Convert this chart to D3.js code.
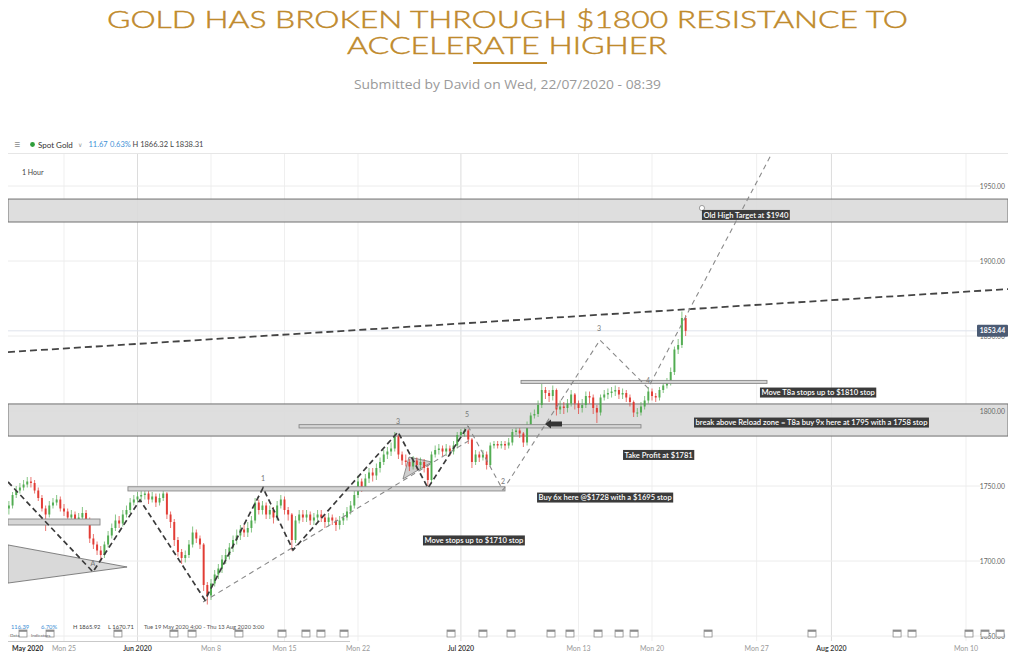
<!DOCTYPE html>
<html><head><meta charset="utf-8">
<script src="https://cdn.jsdelivr.net/npm/d3@7"></script>
<style>body{margin:0;background:#fff;} svg{display:block;font-family:Lato,'Open Sans',sans-serif;}</style>
</head><body>
<svg id="c" width="1013" height="664"></svg>
<script>
// ---------------- DATA ----------------
// 6-hour candles; time unit = trading days from Mon 25 May 2020 (calendar days after Mon 20 Jul)
const startT = -3.75, stepT = 0.25, firstOpen = 1735;
const closes = [
1737,1744,1747,1749,1751,1753,1752,1747,1742,1735,
1731,1737,1739,1741,1735,1733,1729,1731,1727,1729,
1732,1727,1715,1711,1707,1704,1711,1717,1722,1727,
1725,1731,1734,1739,1741,1743,1744,1745,1741,1743,
1739,1742,1745,1731,1726,1714,1706,1702,1704,1711,
1719,1715,1711,1684,1677,1685,1691,1695,1701,1704,
1709,1714,1717,1721,1719,1722,1727,1739,1734,1737,
1731,1734,1729,1737,1741,1734,1731,1714,1727,1731,
1729,1731,1727,1729,1731,1729,1726,1729,1727,1724,
1727,1729,1733,1737,1744,1753,1749,1755,1759,1757,
1762,1766,1771,1773,1775,1783,1771,1767,1766,1763,
1767,1764,1766,1762,1754,1771,1774,1775,1773,1775,
1773,1777,1784,1786,1787,1781,1766,1771,1769,1771,
1764,1777,1778,1777,1778,1777,1779,1786,1787,1785,
1779,1791,1797,1798,1804,1814,1812,1810,1814,1801,
1803,1802,1805,1811,1805,1802,1804,1810,1809,1802,
1799,1809,1811,1812,1813,1814,1811,1812,1809,1806,
1799,1799,1803,1807,1813,1810,1809,1814,1817,1819,
1826,1841,1844,1862,1853.44];
const highs = [
1740,1746,1750,1752,1754,1756,1756,1754,1749,1744,
1737,1740,1742,1744,1743,1738,1735,1734,1733,1732,
1736,1734,1729,1718,1713,1710,1713,1720,1725,1731,
1730,1734,1737,1742,1744,1746,1747,1748,1747,1746,
1745,1745,1748,1746,1733,1728,1716,1708,1707,1714,
1723,1721,1717,1712,1686,1688,1694,1698,1704,1708,
1712,1717,1721,1724,1724,1726,1730,1742,1741,1740,
1739,1737,1736,1740,1744,1743,1736,1732,1730,1734,
1734,1734,1733,1732,1734,1734,1731,1732,1731,1729,
1730,1732,1736,1740,1747,1757,1755,1758,1762,1762,
1765,1769,1774,1776,1779,1786,1784,1773,1771,1768,
1770,1769,1769,1768,1764,1773,1777,1778,1777,1778,
1777,1780,1786,1788,1789,1788,1782,1774,1773,1774,
1773,1779,1780,1780,1780,1780,1782,1788,1790,1789,
1786,1793,1799,1801,1807,1818,1816,1814,1817,1815,
1807,1806,1808,1814,1812,1807,1808,1813,1813,1811,
1804,1811,1814,1815,1816,1817,1816,1815,1814,1811,
1807,1802,1806,1810,1816,1815,1812,1816,1819,1822,
1829,1843,1848,1866.32,1864];
const lows = [
1731,1735,1742,1745,1747,1749,1749,1745,1740,1733,
1720,1729,1735,1737,1733,1730,1726,1727,1724,1725,
1727,1724,1712,1708,1704,1700,1702,1709,1715,1720,
1722,1723,1729,1732,1737,1739,1740,1741,1738,1739,
1736,1737,1740,1728,1722,1710,1703,1698,1699,1702,
1709,1712,1708,1680,1671,1674,1683,1688,1692,1698,
1701,1706,1711,1714,1716,1716,1719,1725,1731,1731,
1728,1728,1725,1727,1735,1731,1727,1707,1712,1725,
1726,1726,1724,1724,1726,1726,1722,1723,1724,1720,
1721,1724,1727,1731,1735,1742,1746,1747,1752,1753,
1754,1759,1764,1768,1770,1773,1768,1764,1763,1760,
1761,1761,1761,1759,1750,1752,1769,1771,1770,1770,
1770,1771,1775,1782,1783,1778,1762,1764,1766,1767,
1761,1763,1775,1775,1775,1774,1775,1777,1784,1782,
1776,1777,1789,1795,1796,1802,1808,1806,1807,1797,
1798,1798,1799,1803,1801,1798,1799,1802,1805,1798,
1792,1797,1807,1808,1809,1810,1808,1808,1806,1803,
1796,1796,1797,1801,1805,1807,1806,1807,1812,1815,
1817,1824,1838,1842,1850];

const priceTicks = [1650, 1700, 1750, 1800, 1850, 1900, 1950];
const timeTicks = [
  {t: 0, label: "Mon 25", month: false}, {t: 5, label: "Jun 2020", month: true},
  {t: 10, label: "Mon 8", month: false}, {t: 15, label: "Mon 15", month: false},
  {t: 20, label: "Mon 22", month: false}, {t: 27, label: "Jul 2020", month: true},
  {t: 35, label: "Mon 13", month: false}, {t: 40, label: "Mon 20", month: false},
  {t: 47, label: "Mon 27", month: false}, {t: 52, label: "Aug 2020", month: true},
  {t: 61, label: "Mon 10", month: false}];
const eventTimes = [-2.79,-0.95,3.67,7.48,8.71,11.9,14.83,16.46,17.48,19.05,26.33,28.5,30.41,33.13,34.42,36.33,37.76,38.78,43.75,50.7,56.39,57.39,61.2,62.27,63.28];

const zones = [{p0: 1926, p1: 1941.3}, {p0: 1783.3, p1: 1804.7}];
const levelBars = [
  {t0: 31.09, t1: 47.69, p0: 1818.4, p1: 1820.4},
  {t0: 15.99, t1: 39.25, p0: 1788.7, p1: 1790.9},
  {t0: 4.35, t1: 30.0, p0: 1746.7, p1: 1749.5},
  {t0: -3.81, t1: 2.45, p0: 1724, p1: 1728}];
const waveMain = [[-3.81,1752.7],[1.97,1692.7],[5.17,1740.7],[9.59,1674],[13.54,1748.7],[15.58,1707.3],[22.72,1786],[24.76,1748.7],[27.48,1790]];
const trendGray1 = [[9.46,1672.7],[27.62,1780.7]];
const trendGray2 = [[27.48,1790],[29.86,1747.3],[36.46,1847.3],[39.73,1815.3],[48.03,1972]];
const resistanceLine = [[-3.81,1839.3],[63.81,1881.3]];
const triangleBig = [[-3.81,1710.7],[4.29,1696],[-3.81,1685.3]];
const triangleSmall = [[23.47,1769.3],[25.03,1766],[23.06,1754.7]];
const waveLabels = [
  {txt: "A", t: 1.97, p: 1697}, {txt: "1", t: 13.54, p: 1753.6}, {txt: "3", t: 22.72, p: 1791.2},
  {txt: "5", t: 27.41, p: 1796}, {txt: "2", t: 29.86, p: 1751.5}, {txt: "3", t: 36.39, p: 1853.3},
  {txt: "4", t: 39.73, p: 1819}];
const notes = [
  {txt: "Old High Target at $1940", t: 43.34, p: 1930.7},
  {txt: "Move T8a stops up to $1810 stop", t: 47.22, p: 1812.3},
  {txt: "break above Reload zone = T8a buy 9x here at 1795 with a 1758 stop", t: 42.81, p: 1792.3},
  {txt: "Take Profit at $1781", t: 38.03, p: 1770.7},
  {txt: "Buy 6x here @$1728 with a $1695 stop", t: 32.18, p: 1742.3},
  {txt: "Move stops up to $1710 stop", t: 24.42, p: 1713.7}];
const targetMarker = {t: 43.34, p: 1935.3};
const arrowMark = {t: 32.72, p: 1791.3};
const lastPrice = 1853.44;

// ---------------- CHART ----------------
const svg = d3.select("#c");
const x = d3.scaleLinear().domain([0, 40, 61]).range([64, 652, 966]);
const y = d3.scaleLinear().domain([1650, 1950]).range([636, 186]);
const L = 8, R = 1008, T = 154, B = 641;
const gold = "#bf8a2c";

// title
function fitText(sel, w) { sel.attr("textLength", w).attr("lengthAdjust", "spacingAndGlyphs"); }
svg.append("text").attr("x", 107).attr("y", 28).attr("fill", gold).attr("stroke", gold).attr("stroke-width", 0.45)
  .attr("font-size", 24).attr("font-weight", 300)
  .text("GOLD HAS BROKEN THROUGH $1800 RESISTANCE TO").call(fitText, 801);
svg.append("text").attr("x", 347).attr("y", 54).attr("fill", gold).attr("stroke", gold).attr("stroke-width", 0.45)
  .attr("font-size", 24).attr("font-weight", 300)
  .text("ACCELERATE HIGHER").call(fitText, 320);
svg.append("rect").attr("x", 473).attr("y", 62).attr("width", 74).attr("height", 2).attr("fill", gold);
svg.append("text").attr("x", 354).attr("y", 89).attr("fill", "#9a9a9a").attr("font-size", 13)
  .attr("font-family", "'Open Sans',sans-serif")
  .text("Submitted by David on Wed, 22/07/2020 - 08:39").call(fitText, 307);

// header of chart widget
const hdr = svg.append("g").attr("font-size", 7.5);
hdr.append("text").attr("x", 14).attr("y", 148).attr("fill", "#888").attr("font-size", 11).text("≡");
hdr.append("circle").attr("cx", 32.5).attr("cy", 144.5).attr("r", 2.4).attr("fill", "#2e9e3a");
hdr.append("text").attr("x", 38).attr("y", 147.5).attr("fill", "#333").attr("font-size", 8).text("Spot Gold");
hdr.append("text").attr("x", 78).attr("y", 147).attr("fill", "#999").attr("font-size", 6).text("∨");
hdr.append("text").attr("x", 88.5).attr("y", 147).attr("fill", "#3d8fd6").text("11.67");
hdr.append("text").attr("x", 110).attr("y", 147).attr("fill", "#3d8fd6").text("0.63%");
hdr.append("text").attr("x", 132.5).attr("y", 147).attr("fill", "#444").text("H 1866.32  L 1838.31");
svg.append("line").attr("x1", L).attr("x2", R).attr("y1", 153.5).attr("y2", 153.5).attr("stroke", "#e6e6e6");
svg.append("text").attr("x", 22).attr("y", 174.5).attr("fill", "#444").attr("font-size", 7).text("1 Hour");

// grid
const grid = svg.append("g");
grid.selectAll(".vg").data(timeTicks).join("line")
  .attr("x1", d => x(d.t)).attr("x2", d => x(d.t)).attr("y1", T).attr("y2", B)
  .attr("stroke", d => d.month ? "#dcdcdc" : "#efefef");
grid.selectAll(".hg").data(priceTicks).join("line")
  .attr("x1", L).attr("x2", 980).attr("y1", d => y(d)).attr("y2", d => y(d)).attr("stroke", "#ececec");

svg.append("clipPath").attr("id", "pc").append("rect")
  .attr("x", L).attr("y", T).attr("width", R - L).attr("height", B - T);
const plot = svg.append("g").attr("clip-path", "url(#pc)");

// zones
plot.selectAll(".zone").data(zones).join("rect")
  .attr("x", L).attr("width", R - L).attr("y", d => y(d.p1)).attr("height", d => y(d.p0) - y(d.p1))
  .attr("fill", "#dadada").attr("fill-opacity", 0.9).attr("stroke", "#707070").attr("stroke-width", 1);

// last price line
plot.append("line").attr("x1", L).attr("x2", R).attr("y1", y(lastPrice)).attr("y2", y(lastPrice))
  .attr("stroke", "#dfe3ec").attr("stroke-width", 1);

// triangles
const line = d3.line().x(d => x(d[0])).y(d => y(d[1]));
plot.append("path").attr("d", line(triangleBig) + "Z").attr("fill", "#d9d9d9").attr("stroke", "#666").attr("stroke-width", 0.8);
plot.append("path").attr("d", line(triangleSmall) + "Z").attr("fill", "#cfcfcf").attr("stroke", "#777").attr("stroke-width", 0.8);

// candles
const candles = closes.map((c, i) => ({t: startT + i * stepT, o: i ? closes[i - 1] : firstOpen, c, h: highs[i], l: lows[i]}));
const cg = plot.append("g");
const up = "#4aa84a", dn = "#e0332b";
cg.selectAll(".wick").data(candles).join("line")
  .attr("x1", d => x(d.t)).attr("x2", d => x(d.t)).attr("y1", d => y(d.h)).attr("y2", d => y(d.l))
  .attr("stroke", d => d.c >= d.o ? up : dn).attr("stroke-width", 0.9).attr("stroke-opacity", 0.75);
cg.selectAll(".body").data(candles).join("rect")
  .attr("x", d => x(d.t) - 1).attr("width", 2)
  .attr("y", d => y(Math.max(d.o, d.c))).attr("height", d => Math.max(1, Math.abs(y(d.o) - y(d.c))))
  .attr("fill", d => d.c >= d.o ? up : dn).attr("fill-opacity", 0.9);

// level bars
plot.selectAll(".lb").data(levelBars).join("rect")
  .attr("x", d => x(d.t0)).attr("width", d => x(d.t1) - x(d.t0))
  .attr("y", d => y(d.p1)).attr("height", d => y(d.p0) - y(d.p1))
  .attr("fill", "#d6d6d6").attr("stroke", "#888").attr("stroke-width", 0.9);

// trend / wave lines
plot.append("path").attr("d", line(resistanceLine)).attr("fill", "none")
  .attr("stroke", "#444").attr("stroke-width", 1.8).attr("stroke-dasharray", "7,4");
plot.append("path").attr("d", line(trendGray1)).attr("fill", "none")
  .attr("stroke", "#8a8a8a").attr("stroke-width", 1.1).attr("stroke-dasharray", "5,4");
plot.append("path").attr("d", line(trendGray2)).attr("fill", "none")
  .attr("stroke", "#8a8a8a").attr("stroke-width", 1.1).attr("stroke-dasharray", "5,4");
plot.append("path").attr("d", line(waveMain)).attr("fill", "none")
  .attr("stroke", "#3a3a3a").attr("stroke-width", 1.7).attr("stroke-dasharray", "5.5,3.5");

// wave labels
plot.selectAll(".wl").data(waveLabels).join("text")
  .attr("x", d => x(d.t)).attr("y", d => y(d.p)).attr("text-anchor", "middle")
  .attr("font-size", 7).attr("fill", "#777").text(d => d.txt);

// arrow
const ax = x(arrowMark.t), ay = y(arrowMark.p);
plot.append("path").attr("d", `M${ax},${ay} L${ax+6},${ay-4.5} L${ax+6},${ay-2.5} L${ax+17},${ay-2.5} L${ax+17},${ay+2.5} L${ax+6},${ay+2.5} L${ax+6},${ay+4.5} Z`)
  .attr("fill", "#333");

// target marker
plot.append("circle").attr("cx", x(targetMarker.t)).attr("cy", y(targetMarker.p)).attr("r", 2.6)
  .attr("fill", "#fff").attr("stroke", "#888").attr("stroke-width", 0.8);

// notes
const ng = plot.selectAll(".note").data(notes).join("g");
ng.each(function (d) {
  const g = d3.select(this);
  const txt = g.append("text").attr("x", x(d.t) + 1.5).attr("y", y(d.p) + 2.8)
    .attr("font-size", 7.6).attr("fill", "#fff").attr("font-weight", 600).text(d.txt);
  const w = txt.node().getComputedTextLength();
  g.insert("rect", "text").attr("x", x(d.t)).attr("y", y(d.p) - 5).attr("width", w + 3).attr("height", 10)
    .attr("fill", "#3b3b3b");
});

// right axis labels
svg.selectAll(".yl").data(priceTicks).join("text")
  .attr("x", 1005).attr("y", d => y(d) + 2.5).attr("text-anchor", "end")
  .attr("font-size", 6.8).attr("fill", "#666").text(d => d.toFixed(2));
svg.append("rect").attr("x", 977).attr("y", y(lastPrice) - 6).attr("width", 31).attr("height", 12)
  .attr("rx", 1).attr("fill", "#4b5b74");
svg.append("text").attr("x", 992.5).attr("y", y(lastPrice) + 2.5).attr("text-anchor", "middle")
  .attr("font-size", 6.8).attr("font-weight", 700).attr("fill", "#fff").text(lastPrice.toFixed(2));

// event icons
const ev = svg.selectAll(".ev").data(eventTimes).join("g")
  .attr("transform", d => `translate(${x(d) - 4},630)`);
ev.append("rect").attr("width", 8).attr("height", 7).attr("fill", "#fff").attr("stroke", "#8c8c8c").attr("stroke-width", 0.8);
ev.append("rect").attr("width", 8).attr("height", 1.8).attr("fill", "#8c8c8c");

// bottom info row
const info = svg.append("g").attr("font-size", 5.8);
info.append("text").attr("x", 11).attr("y", 628.5).attr("fill", "#3d8fd6").text("116.39");
info.append("text").attr("x", 41).attr("y", 628.5).attr("fill", "#3d8fd6").text("6.70%");
info.append("text").attr("x", 73).attr("y", 628.5).attr("fill", "#444").text("H 1865.92");
info.append("text").attr("x", 108).attr("y", 628.5).attr("fill", "#444").text("L 1670.71");
info.append("text").attr("x", 144).attr("y", 628.5).attr("fill", "#555").text("Tue 19 May 2020 4:00 - Thu 13 Aug 2020 3:00");
info.append("text").attr("x", 10).attr("y", 637).attr("fill", "#666").attr("font-size", 4.5).text("Data");
info.append("text").attr("x", 31).attr("y", 637).attr("fill", "#666").attr("font-size", 4.5).text("Indicators");
svg.append("line").attr("x1", L).attr("x2", 350).attr("y1", 641.5).attr("y2", 641.5).attr("stroke", "#bbb").attr("stroke-width", 0.8);

// time axis labels
svg.append("text").attr("x", 12).attr("y", 650.5).attr("font-size", 7).attr("font-weight", 700).attr("fill", "#333").text("May 2020");
svg.selectAll(".xl").data(timeTicks).join("text")
  .attr("x", d => x(d.t)).attr("y", 650.5).attr("text-anchor", "middle").attr("font-size", 7)
  .attr("font-weight", d => d.month ? 600 : 400)
  .attr("fill", d => d.month ? "#333" : "#999").text(d => d.label);
</script>
</body></html>
